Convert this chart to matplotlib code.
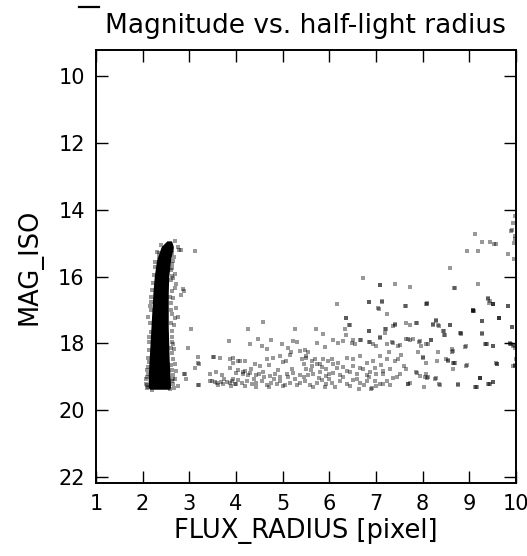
import matplotlib
matplotlib.use("Agg")
import matplotlib.pyplot as plt
from matplotlib.lines import Line2D

# stellar locus: saturated core, left/right edge per magnitude
core_mag = [14.93, 15.1, 15.5, 16.0, 16.5, 17.0, 17.5, 18.0, 18.5, 19.0, 19.3, 19.37]
core_left = [2.52, 2.40, 2.30, 2.25, 2.22, 2.20, 2.18, 2.16, 2.14, 2.12, 2.12, 2.15]
core_right = [2.62, 2.66, 2.60, 2.56, 2.55, 2.55, 2.55, 2.56, 2.57, 2.59, 2.60, 2.58]

# sources around the locus edge
edge_pts = [
    (2.69, 14.94), (2.79, 15.19), (2.76, 15.12), (2.83, 15.19), (3.12, 15.22),
    (2.65, 15.53), (2.62, 15.73), (2.69, 15.93), (2.72, 16.23), (2.69, 16.33),
    (2.87, 16.38), (2.83, 16.55), (2.88, 16.42), (2.65, 16.63), (2.72, 16.93),
    (2.69, 17.23), (2.76, 17.21), (2.65, 18.02), (2.69, 18.62), (2.72, 18.82),
    (2.65, 19.07), (2.76, 19.27), (2.12, 17.22), (2.15, 16.88), (2.08, 19.07),
    (2.10, 19.25), (2.12, 18.42), (2.35, 15.30), (2.40, 15.05),
    (2.62, 15.30), (2.61, 15.80), (2.60, 16.10), (2.59, 16.60), (2.60, 17.00),
    (2.61, 17.40), (2.62, 17.80), (2.63, 18.30), (2.64, 18.80), (2.66, 19.20),
    (2.64, 15.20), (2.63, 15.62), (2.62, 15.98), (2.63, 16.42), (2.61, 16.78),
    (2.63, 17.12), (2.62, 17.62), (2.64, 17.95), (2.60, 18.15), (2.65, 18.45),
    (2.61, 18.65), (2.66, 18.95), (2.62, 19.12), (2.68, 19.33), (2.58, 19.35),
    (2.67, 15.42), (2.66, 16.05), (2.67, 17.45), (2.68, 18.18), (2.70, 19.05),
    (2.36, 15.40), (2.26, 15.70), (2.22, 16.20), (2.19, 16.60), (2.17, 17.00),
    (2.14, 17.80), (2.13, 18.20), (2.12, 18.70), (2.10, 19.00), (2.11, 19.30),
    (2.27, 15.55), (2.21, 16.40), (2.16, 17.40), (2.13, 17.95), (2.11, 18.90),
    (2.07, 19.20), (2.09, 19.34), (2.20, 19.38), (2.31, 15.25), (2.24, 15.95),
    (2.18, 16.75), (2.17, 17.65), (2.14, 18.55), (2.09, 18.80),
]

# extended sources (galaxies)
field_pts = [
    (3.03, 17.57), (2.98, 18.14), (2.88, 18.90), (3.19, 18.40), (3.21, 18.62),
    (3.12, 18.72), (3.21, 19.23), (3.53, 18.40), (3.66, 18.44), (3.57, 18.84),
    (3.48, 19.13), (3.55, 19.16), (3.67, 19.16), (3.85, 17.94), (3.94, 18.44),
    (3.87, 18.72), (3.80, 19.16), (3.91, 19.13), (3.98, 19.22), (4.08, 18.52),
    (4.19, 18.52), (4.05, 18.78), (4.15, 18.84), (4.26, 17.57), (4.30, 18.02),
    (4.48, 17.87), (4.55, 18.07), (4.66, 18.17), (4.57, 17.37), (2.94, 19.07),
    (6.17, 16.81), (6.86, 16.75), (7.12, 16.75), (7.07, 16.98), (7.23, 17.13),
    (7.64, 16.88), (8.08, 16.81), (9.40, 16.68), (9.51, 16.81), (9.83, 16.88),
    (9.08, 17.03), (9.08, 17.03), (6.36, 17.25), (6.44, 17.45), (6.33, 17.58),
    (5.26, 17.58), (5.71, 17.58), (5.86, 17.71), (6.36, 17.75), (6.86, 17.63),
    (7.19, 17.58), (7.19, 17.68), (7.40, 17.45), (7.65, 17.38), (7.87, 17.38),
    (8.28, 17.33), (8.33, 17.45), (8.23, 17.43), (8.44, 17.63), (8.47, 17.75),
    (8.58, 17.45), (8.83, 17.71), (9.28, 17.33), (9.28, 17.71), (9.64, 17.25),
    (9.92, 17.51), (4.76, 17.91), (4.98, 18.03), (5.12, 18.13), (5.23, 17.93),
    (5.30, 17.95), (5.37, 18.23), (5.48, 18.21), (5.73, 17.98), (5.91, 18.11),
    (6.08, 17.91), (6.19, 17.98), (6.30, 17.93), (6.48, 17.98), (6.55, 18.03),
    (6.69, 17.91), (6.87, 17.95), (6.94, 18.03), (7.08, 17.83), (7.23, 18.03),
    (7.37, 17.98), (7.51, 18.04), (7.69, 17.88), (7.80, 17.88), (7.94, 17.93),
    (8.08, 18.03), (8.19, 17.91), (8.64, 18.17), (8.64, 18.27), (8.90, 18.11),
    (9.33, 18.03), (9.51, 18.08), (9.87, 18.03), (9.94, 18.08), (9.98, 18.14),
    (3.19, 18.57), (3.51, 18.40), (3.87, 18.47), (3.94, 18.57), (4.05, 18.52),
    (4.19, 18.82), (4.33, 18.77), (4.51, 18.67), (4.66, 18.47), (4.80, 18.44),
    (4.94, 18.37), (5.08, 18.52), (5.19, 18.27), (5.41, 18.47), (5.51, 18.42),
    (5.62, 18.52), (5.73, 18.62), (5.87, 18.47), (5.98, 18.52), (6.08, 18.62),
    (6.19, 18.57), (6.37, 18.42), (6.51, 18.47), (6.65, 18.37), (6.80, 18.57),
    (6.94, 18.52), (7.08, 18.37), (7.23, 18.47), (7.48, 18.47), (7.65, 18.77),
    (7.87, 18.87), (8.01, 18.42), (8.08, 18.57), (8.30, 18.52), (8.51, 18.47),
    (8.65, 18.57), (8.65, 18.77), (8.94, 18.67), (9.58, 18.57), (9.94, 18.67),
    (2.91, 18.90), (3.19, 19.24), (3.44, 19.12), (3.59, 19.17), (3.73, 19.22),
    (3.87, 19.17), (3.94, 19.07), (4.01, 19.22), (4.12, 19.17), (4.23, 19.12),
    (4.34, 19.22), (4.44, 19.17), (4.55, 19.12), (4.66, 19.24), (4.76, 19.17),
    (4.87, 19.22), (4.94, 19.12), (5.05, 19.24), (5.16, 19.17), (5.26, 19.07),
    (5.37, 19.17), (5.48, 19.12), (5.59, 19.24), (5.73, 19.17), (5.84, 19.10),
    (5.94, 19.22), (6.05, 19.17), (6.23, 19.12), (6.37, 19.20), (6.51, 19.10),
    (6.66, 19.17), (6.80, 19.12), (6.91, 19.32), (7.09, 19.20), (7.23, 19.12),
    (7.37, 19.02), (7.51, 18.92), (7.69, 19.20), (7.94, 18.97), (8.09, 19.02),
    (8.26, 19.07), (8.37, 19.24), (8.76, 19.24), (9.16, 19.30), (9.23, 19.04),
    (9.44, 19.20), (9.51, 19.14), (4.01, 18.87), (4.16, 18.92), (4.30, 18.87),
    (4.44, 18.94), (4.59, 18.84), (4.73, 18.97), (4.84, 18.90), (4.94, 19.00),
    (5.09, 18.92), (5.23, 18.87), (5.37, 18.94), (5.51, 18.77), (5.66, 18.90),
    (5.80, 18.84), (5.94, 18.97), (6.09, 18.87), (6.23, 18.94), (6.37, 18.82),
    (6.59, 18.90), (6.73, 18.77), (6.87, 18.84), (7.01, 18.90), (7.16, 18.82),
    (7.30, 18.77), (5.51, 18.37), (5.62, 18.67), (5.80, 18.62), (5.94, 18.77),
    (6.05, 18.47), (6.16, 18.72), (6.51, 18.67), (6.66, 18.72), (6.98, 18.72),
    (3.62, 19.25), (3.75, 19.05), (3.90, 19.28), (4.05, 19.10), (4.20, 19.28),
    (4.38, 19.05), (4.42, 19.30), (4.60, 19.00), (4.70, 19.30), (4.82, 19.05),
    (5.00, 19.28), (5.12, 19.00), (5.30, 19.25), (5.45, 19.00), (5.55, 18.95),
    (5.65, 19.30), (5.78, 19.02), (5.90, 19.30), (6.00, 19.05), (6.12, 19.30),
    (6.30, 19.00), (6.45, 19.28), (6.60, 19.05), (6.75, 19.25), (6.85, 19.00),
    (7.00, 19.28), (7.30, 19.25), (7.45, 19.00), (4.25, 18.95), (4.50, 18.90),
    (4.90, 18.80), (5.20, 18.75), (5.45, 18.60), (5.60, 18.80), (5.70, 18.45),
    (5.85, 18.70), (6.00, 18.90), (6.30, 18.70), (4.70, 18.65), (5.00, 18.55),
    (5.55, 18.25), (5.15, 18.35), (6.45, 18.85), (6.80, 18.95), (7.10, 18.65),
    (4.40, 18.60), (3.70, 18.95), (3.45, 18.90),
    (9.13, 14.72), (9.27, 14.96), (9.45, 14.96), (9.54, 15.02), (8.95, 15.22),
    (9.18, 15.22), (8.59, 15.73), (6.72, 16.05), (7.08, 16.25), (7.08, 16.25),
    (7.40, 16.23), (7.72, 16.31), (8.68, 16.35), (9.18, 16.23), (6.85, 16.75),
    (7.13, 16.73), (7.04, 16.93), (7.63, 16.88), (8.09, 16.81), (9.43, 16.78),
    (9.50, 16.81), (9.09, 17.01), (9.09, 17.01), (9.82, 16.88), (9.63, 17.25),
    (9.27, 17.33), (6.35, 17.25), (6.43, 17.45), (6.85, 17.64), (7.22, 17.57),
    (7.36, 17.48), (7.40, 17.43), (7.72, 17.45), (7.86, 17.38), (8.22, 17.45),
    (8.29, 17.31), (8.36, 17.48), (8.45, 17.64), (8.45, 17.74), (8.59, 17.45),
    (8.80, 17.70), (9.27, 17.70), (6.51, 17.90), (6.65, 17.90), (6.86, 17.97),
    (7.01, 18.07), (7.08, 17.82), (7.35, 17.97), (7.47, 18.07), (7.65, 17.87),
    (7.72, 17.90), (7.93, 17.97), (7.97, 18.07), (8.11, 18.02), (8.18, 17.90),
    (8.65, 18.24), (8.92, 18.07), (9.36, 18.02), (9.50, 18.07), (9.90, 18.02),
    (7.29, 18.27), (7.54, 18.34), (7.90, 18.27), (8.33, 18.27), (8.00, 18.40),
    (8.54, 18.50), (8.68, 18.57), (8.95, 18.64), (9.59, 18.60), (9.97, 18.64),
    (7.40, 18.52), (7.61, 18.67), (7.86, 18.84), (8.08, 18.92), (8.11, 19.00),
    (7.15, 18.92), (6.97, 19.12), (7.15, 19.22), (8.29, 19.04), (8.36, 19.22),
    (8.75, 19.22), (9.13, 19.30), (9.22, 19.04), (9.43, 19.20), (7.72, 19.17),
    (7.68, 19.22), (8.04, 19.30), (6.63, 19.37), (6.90, 19.37),
    (9.97, 14.19), (9.93, 14.39), (9.90, 14.64), (9.92, 14.59), (9.97, 14.78),
    (9.98, 14.88), (9.96, 14.98), (9.82, 15.33), (9.96, 15.48), (9.57, 15.01),
    (8.69, 16.35), (8.10, 16.80), (9.40, 16.63), (9.44, 16.72), (9.51, 16.82),
    (9.10, 17.02), (9.64, 17.24), (9.92, 17.50), (8.83, 17.70), (9.37, 18.02),
    (9.87, 18.00), (9.95, 18.05), (10.00, 18.47), (9.97, 18.67), (9.60, 18.60),
    (8.55, 18.52), (8.69, 18.59), (9.22, 19.04), (9.40, 19.21), (9.50, 19.16),
    (9.14, 19.29), (8.05, 18.99),
]

x_ticks = [1, 2, 3, 4, 5, 6, 7, 8, 9, 10]
y_ticks = [10, 12, 14, 16, 18, 20, 22]

edge_x, edge_y = zip(*edge_pts)
field_x, field_y = zip(*field_pts)

fig = plt.figure(figsize=(5.27, 5.56), dpi=100, facecolor='white')
ax = fig.add_axes([0.182, 0.131, 0.797, 0.779])

ax.fill_betweenx(core_mag, core_left, core_right, color='black', lw=0)
ax.scatter(edge_x, edge_y, s=7, marker='s', c='black', alpha=0.4, lw=0)
ax.scatter(field_x, field_y, s=7, marker='s', c='black', alpha=0.4, lw=0)

ax.set_xlim(1, 10)
ax.set_ylim(22.18, 9.22)
ax.set_xticks(x_ticks)
ax.set_yticks(y_ticks)
ax.tick_params(direction='in', top=True, right=True, length=8.5, width=1,
               labelsize=15, colors='black', pad=8)
for s in ax.spines.values():
    s.set_linewidth(1.4)

ax.set_title('Magnitude vs. half-light radius', fontsize=19, pad=12)
ax.set_xlabel('FLUX_RADIUS [pixel]', fontsize=18.5, labelpad=3)
ax.set_ylabel('MAG_ISO', fontsize=18.5, labelpad=11)

# short dark stroke at the top left (remnant above the title)
fig.add_artist(Line2D([0.150, 0.188], [0.987, 0.987], color='black', lw=1.6))

fig.savefig('out.png', dpi=100, facecolor='white')
